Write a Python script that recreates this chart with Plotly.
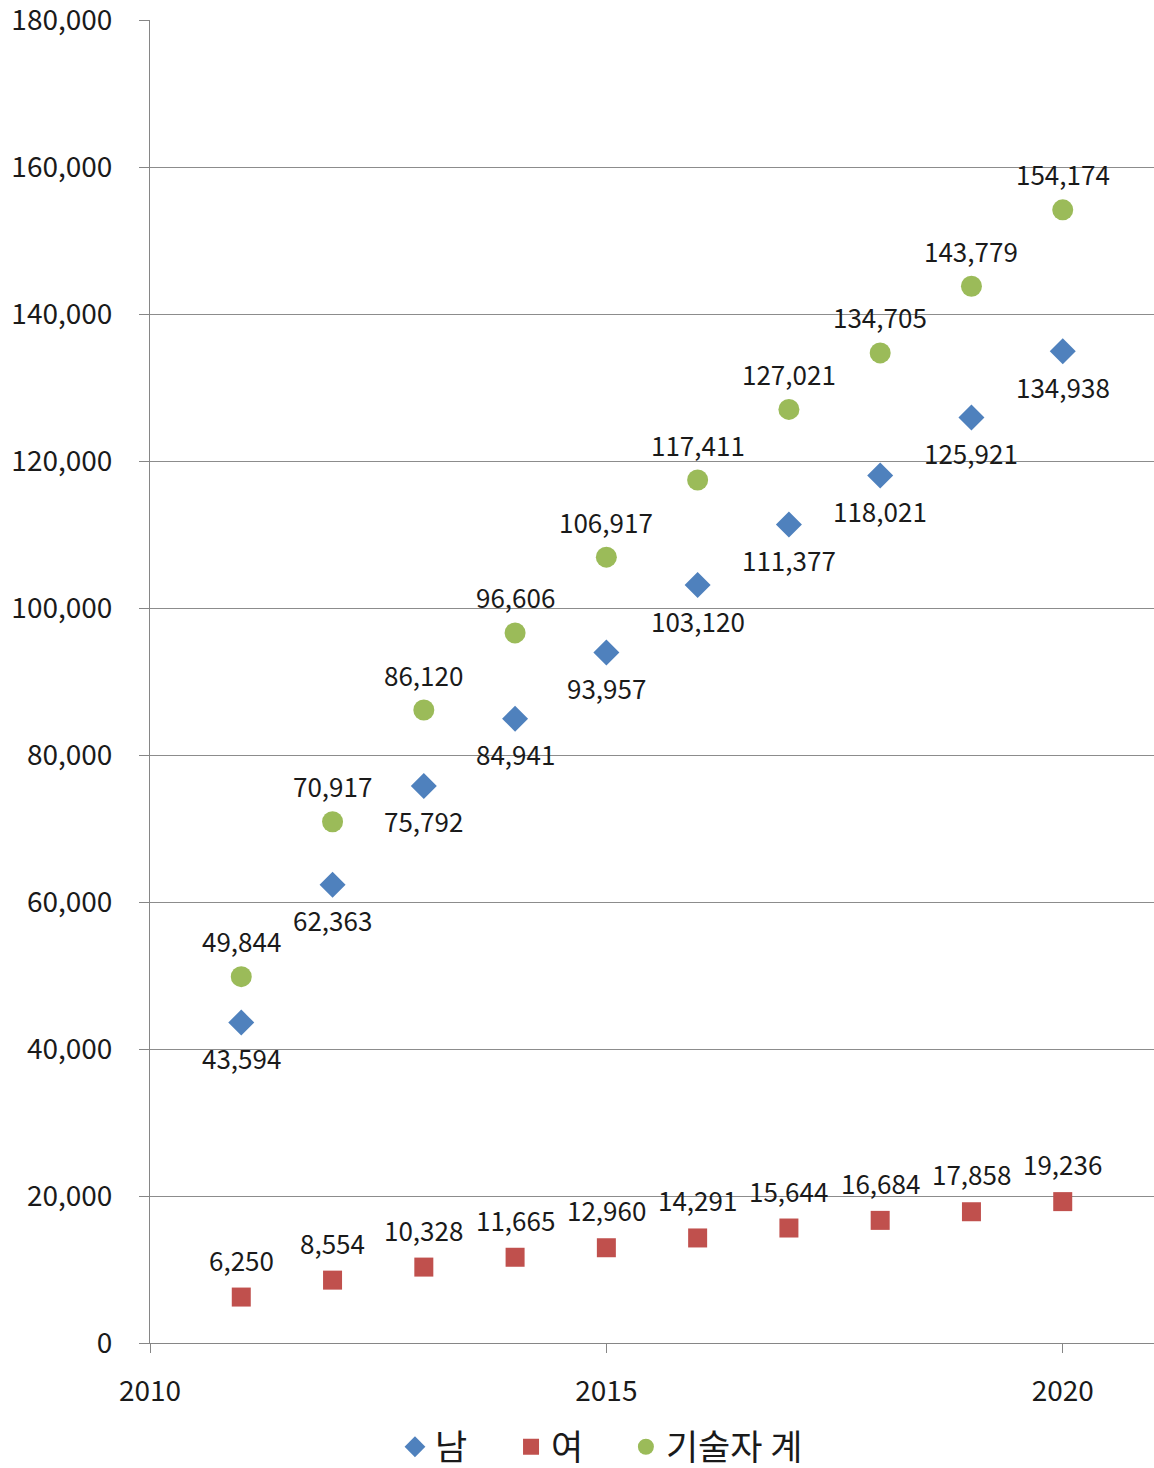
import plotly.graph_objects as go

years = [2011, 2012, 2013, 2014, 2015, 2016, 2017, 2018, 2019, 2020]
male = [43594, 62363, 75792, 84941, 93957, 103120, 111377, 118021, 125921, 134938]
female = [6250, 8554, 10328, 11665, 12960, 14291, 15644, 16684, 17858, 19236]
total = [49844, 70917, 86120, 96606, 106917, 117411, 127021, 134705, 143779, 154174]

names = ["남", "여", "기술자 계"]
colors = ["#4F81BD", "#C0504D", "#9BBB59"]

FONT = "Noto Sans CJK KR"
LABEL_SIZE = 26

def fmt(v):
    return f"{v:,}"

fig = go.Figure()
fig.add_trace(go.Scatter(
    x=years, y=male, name=names[0], mode="markers", legend="legend",
    marker=dict(symbol="diamond", size=20, color=colors[0]),
))
fig.add_trace(go.Scatter(
    x=years, y=female, name=names[1], mode="markers", legend="legend2",
    marker=dict(symbol="square", size=19, color=colors[1]),
))
fig.add_trace(go.Scatter(
    x=years, y=total, name=names[2], mode="markers", legend="legend3",
    marker=dict(symbol="circle", size=21, color=colors[2]),
))

annotations = []
for series, shift in ((male, -35), (female, 38), (total, 36)):
    for xv, yv in zip(years, series):
        annotations.append(dict(
            x=xv, y=yv, xref="x", yref="y", text=fmt(yv), showarrow=False,
            yshift=shift, font=dict(size=LABEL_SIZE, family=FONT, color="#1a1a1a"),
        ))

def leg(xpos):
    return dict(
        orientation="h", x=xpos, xanchor="left", y=-0.0786, yanchor="middle",
        font=dict(size=35, family=FONT, color="#1a1a1a"), itemsizing="trace",
        bgcolor="rgba(0,0,0,0)",
    )

fig.update_layout(
    width=1154, height=1468,
    margin=dict(l=150, r=0, t=20, b=125, autoexpand=False),
    paper_bgcolor="white", plot_bgcolor="white",
    font=dict(family=FONT, color="#1a1a1a"),
    annotations=annotations,
    xaxis=dict(
        range=[2010, 2021], tickvals=[2010, 2015, 2020],
        showgrid=False, showline=True, linecolor="#868686", linewidth=1,
        ticks="outside", ticklen=9, tickcolor="#868686",
        tickfont=dict(size=28, family=FONT), zeroline=False,
        ticklabelstandoff=14, automargin=False, ticklabeloverflow="allow",
    ),
    yaxis=dict(
        range=[0, 180000], tickvals=list(range(0, 180001, 20000)),
        tickformat=",d",
        showgrid=True, gridcolor="#8c8c8c", gridwidth=1,
        showline=True, linecolor="#868686", linewidth=1,
        ticks="outside", ticklen=10, tickcolor="#868686",
        tickfont=dict(size=28, family=FONT), zeroline=False,
        ticklabelstandoff=21, automargin=False, ticklabeloverflow="allow",
    ),
    legend=leg(0.244),
    legend2=leg(0.3596),
    legend3=leg(0.474),
    showlegend=True,
)

fig.write_html(
    "out.html",
    config={"displayModeBar": False},
    post_script="document.body.style.margin='0';",
)
